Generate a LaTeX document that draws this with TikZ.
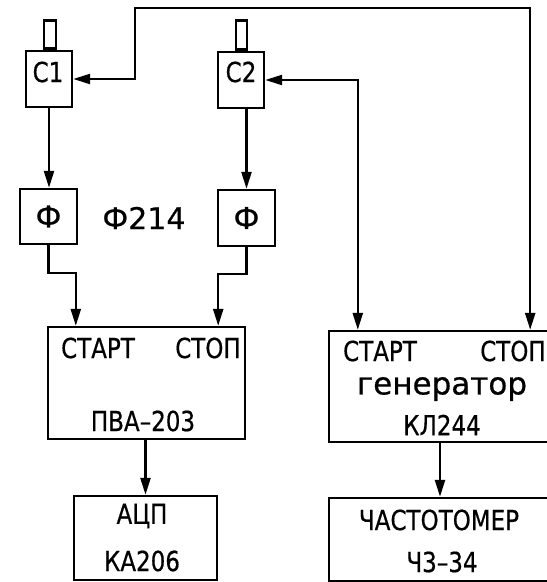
\documentclass[tikz,border=0pt]{standalone}
\usepackage{fontspec}
\setmainfont{DejaVu Sans}[FakeBold=0.6]
\usetikzlibrary{arrows.meta}

\newcommand\tallt[1]{\scalebox{1}[1.2]{#1}}
\tikzset{
  box/.style={draw,inner sep=0pt},
  txt/.style={font=\fontsize{23}{26}\selectfont,inner sep=0pt},
  bigtxt/.style={font=\fontsize{30}{34}\selectfont,inner sep=0pt}
}

\begin{document}
\begin{tikzpicture}[x=1pt,y=-1pt,>={Triangle[length=17pt,width=10pt]},line width=2.4pt]
        \useasboundingbox (0,0) rectangle (547,582);
        \clip (0,0) rectangle (547,582);
        % sensors
        \node[box,minimum width=46pt,minimum height=56pt] (c1) at (49,79) {};
        \node[box,minimum width=12pt,minimum height=28pt,anchor=south] (s1) at ([xshift=1pt]c1.north) {};
        \node[txt] (c1txt) at (48,72) {\tallt{С1}};
        \node[box,minimum width=46pt,minimum height=56pt] (c2) at (241,80) {};
        \node[box,minimum width=11pt,minimum height=29pt,anchor=south] (s2) at ([xshift=0.5pt]c2.north) {};
        \node[txt] (c2txt) at (241,72) {\tallt{С2}};
        % shapers
        \node[box,minimum width=57pt,minimum height=55pt,bigtxt] (f1) at (48.5,216.5) {Ф};
        \node[box,minimum width=57pt,minimum height=56pt,bigtxt] (f2) at (246.5,218) {Ф};
        \node[bigtxt] (ftype) at (144,218) {Ф214};
        % time-to-amplitude converter
        \node[box,minimum width=197pt,minimum height=112pt] (pva) at (146.5,383) {};
        \node[txt] (pvastart) at (98,348) {\tallt{СТАРТ}};
        \node[txt] (pvastop) at (208,348) {\tallt{СТОП}};
        \node[txt] (pvaname) at (143,421) {\tallt{ПВА–203}};
        \node[box,minimum width=143pt,minimum height=84pt] (adc) at (145.5,538) {};
        \node[txt] (adcname) at (142,516) {\tallt{АЦП}};
        \node[txt] (adctype) at (142,561) {\tallt{КА206}};
        % generator and counter
        \node[box,minimum width=222pt,minimum height=111pt] (gen) at (440,386.5) {};
        \node[txt] (genstarttxt) at (380,351) {\tallt{СТАРТ}};
        \node[txt] (genstoptxt) at (513,351) {\tallt{СТОП}};
        \node[bigtxt,font=\fontsize{31}{34}\selectfont] (genname) at (442,389) {генератор};
        \node[txt] (gentype) at (442,425) {\tallt{КЛ244}};
        \node[box,minimum width=222pt,minimum height=83pt] (freq) at (440,539.5) {};
        \node[txt] (freqname) at (439,520) {\tallt{ЧАСТОТОМЕР}};
        \node[txt] (freqtype) at (442,562) {\tallt{Ч3–34}};
        \coordinate (genstart) at ([xshift=30pt]gen.north west);
        \coordinate (genstop) at ([xshift=-22pt]gen.north east);

        \draw[->] (c1.south) -- (c1.south |- f1.north);
        \draw[->] (c2.south -| f2.north) -- (f2.north);
        \draw[->] (f1.south) -- ++(0,28) -| ([xshift=29pt]pva.north west);
        \draw[->] (f2.south) -- ++(0,27) -| ([xshift=-28pt]pva.north east);
        \draw[->] (adc.north |- pva.south) -- (adc.north);
        \draw[->] (gen.south) -- (freq.north);
        \draw[<->] (c1.east) -- ++(62,0) -- ++(0,-71) -| (genstop);
        \draw[<->] (c2.east) -| (genstart);
    \end{tikzpicture}
\end{document}
